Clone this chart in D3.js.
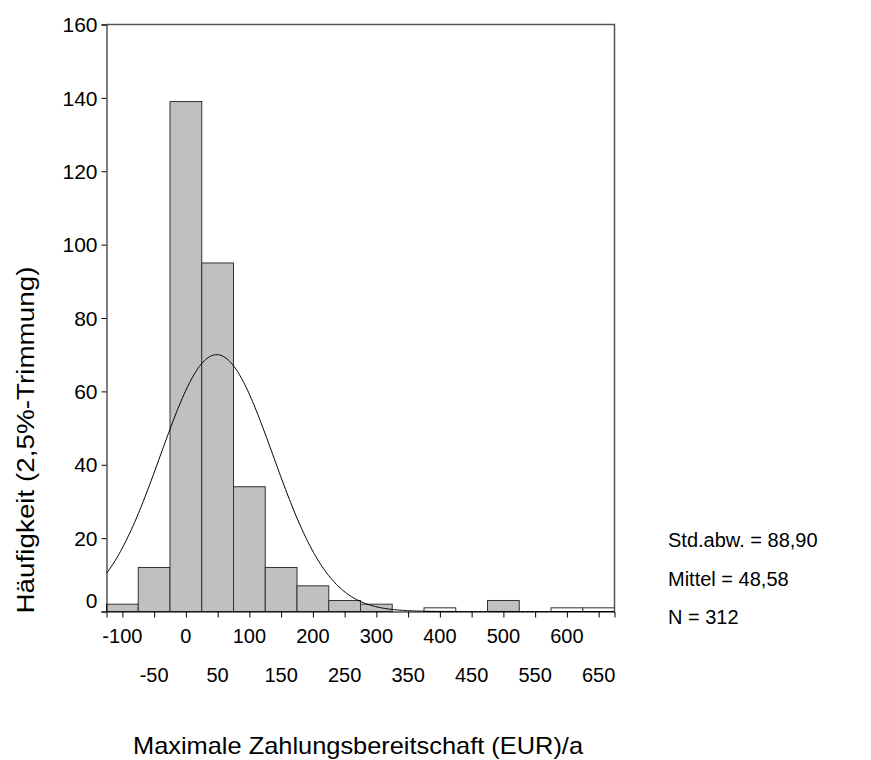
<!DOCTYPE html>
<html>
<head>
<meta charset="utf-8">
<script src="https://cdn.jsdelivr.net/npm/d3@7"></script>
<style>
  html, body { margin: 0; padding: 0; background: #fff; }
  svg { display: block; font-family: "Liberation Sans", Arial, sans-serif; }
</style>
</head>
<body>
<svg id="chart" width="871" height="760"></svg>
<script>
// Histogram of maximal willingness to pay, 50-EUR bins centred on the tick values
const binCenters = [-100, -50, 0, 50, 100, 150, 200, 250, 300, 350, 400, 450, 500, 550, 600, 650];
const binCounts  = [2, 12, 139, 95, 34, 12, 7, 3, 2, 0, 1, 0, 3, 0, 1, 1];
const binWidth = 50;

const yTickValues = [0, 20, 40, 60, 80, 100, 120, 140, 160];
const xTicksUpper = [-100, 0, 100, 200, 300, 400, 500, 600];
const xTicksLower = [-50, 50, 150, 250, 350, 450, 550, 650];

// Summary statistics (trimmed sample)
const statStdDev = 88.90;
const statMean = 48.58;
const statN = 312;
const statLabels = ["Std.abw. = 88,90", "Mittel = 48,58", "N = 312"];

const xTitle = "Maximale Zahlungsbereitschaft (EUR)/a";
const yTitle = "Häufigkeit (2,5%-Trimmung)";

const svg = d3.select("#chart");

const plot = { left: 106.5, right: 614.5, top: 24.5, bottom: 611.5 };

const x = d3.scaleLinear()
  .domain([binCenters[0] - binWidth / 2, binCenters[binCenters.length - 1] + binWidth / 2])
  .range([plot.left, plot.right]);
const y = d3.scaleLinear().domain([0, 160]).range([plot.bottom, plot.top]);

// Bars
const bars = binCenters.map((c, i) => ({ c, n: binCounts[i] })).filter(d => d.n > 0);
svg.append("g").selectAll("rect").data(bars).join("rect")
  .attr("x", d => x(d.c - binWidth / 2))
  .attr("y", d => y(d.n))
  .attr("width", d => x(d.c + binWidth / 2) - x(d.c - binWidth / 2))
  .attr("height", d => y(0) - y(d.n))
  .attr("fill", d => d.n <= 1 ? "#ffffff" : "#c0c0c0")
  .attr("stroke", "#333")
  .attr("stroke-width", 1);

// Fitted normal curve scaled to the counts per bin
const pdf = v => Math.exp(-0.5 * ((v - statMean) / statStdDev) ** 2) / (statStdDev * Math.sqrt(2 * Math.PI));
const curvePts = d3.range(x.domain()[0], x.domain()[1] + 0.001, 2).map(v => [v, statN * binWidth * pdf(v)]);
svg.append("path")
  .datum(curvePts)
  .attr("fill", "none")
  .attr("stroke", "#000")
  .attr("stroke-width", 1)
  .attr("d", d3.line().x(d => x(d[0])).y(d => y(d[1])));

// Frame (top and right)
svg.append("path")
  .attr("d", `M${plot.left},${plot.top}H${plot.right}V${plot.bottom}`)
  .attr("fill", "none")
  .attr("stroke", "#555")
  .attr("stroke-width", 1.5);

// Y axis
const yAxis = svg.append("g")
  .attr("transform", `translate(${plot.left},0)`)
  .call(d3.axisLeft(y).tickValues(yTickValues).tickSize(5).tickPadding(4).tickFormat(d3.format("d")));
yAxis.select(".domain").attr("stroke", "#000");
yAxis.selectAll("text").attr("font-size", 21).attr("fill", "#000")
  .attr("font-family", "Liberation Sans, Arial, sans-serif")
  .attr("dy", d => d === 0 ? "-0.2em" : "0.34em");

// X axis: ticks at every bin centre, labels alternating on two rows
const xAxis = svg.append("g")
  .attr("transform", `translate(0,${plot.bottom})`)
  .call(d3.axisBottom(x).tickValues(binCenters).tickSize(6).tickFormat(""));
xAxis.select(".domain").attr("stroke", "#000");

svg.append("g").selectAll("text").data(xTicksUpper).join("text")
  .attr("x", d => x(d)).attr("y", 643)
  .attr("text-anchor", "middle").attr("font-size", 20)
  .text(d => d);
svg.append("g").selectAll("text").data(xTicksLower).join("text")
  .attr("x", d => x(d)).attr("y", 682)
  .attr("text-anchor", "middle").attr("font-size", 20)
  .text(d => d);

// Axis titles
svg.append("text")
  .attr("x", 358).attr("y", 754)
  .attr("text-anchor", "middle").attr("font-size", 24)
  .attr("textLength", 450).attr("lengthAdjust", "spacingAndGlyphs")
  .text(xTitle);
svg.append("text")
  .attr("transform", "translate(34,440) rotate(-90)")
  .attr("text-anchor", "middle").attr("font-size", 23)
  .attr("textLength", 347).attr("lengthAdjust", "spacingAndGlyphs")
  .text(yTitle);

// Statistics block
svg.append("g").selectAll("text").data(statLabels).join("text")
  .attr("x", 668).attr("y", (d, i) => 547 + i * 38.7)
  .attr("font-size", 20)
  .text(d => d);
</script>
</body>
</html>
